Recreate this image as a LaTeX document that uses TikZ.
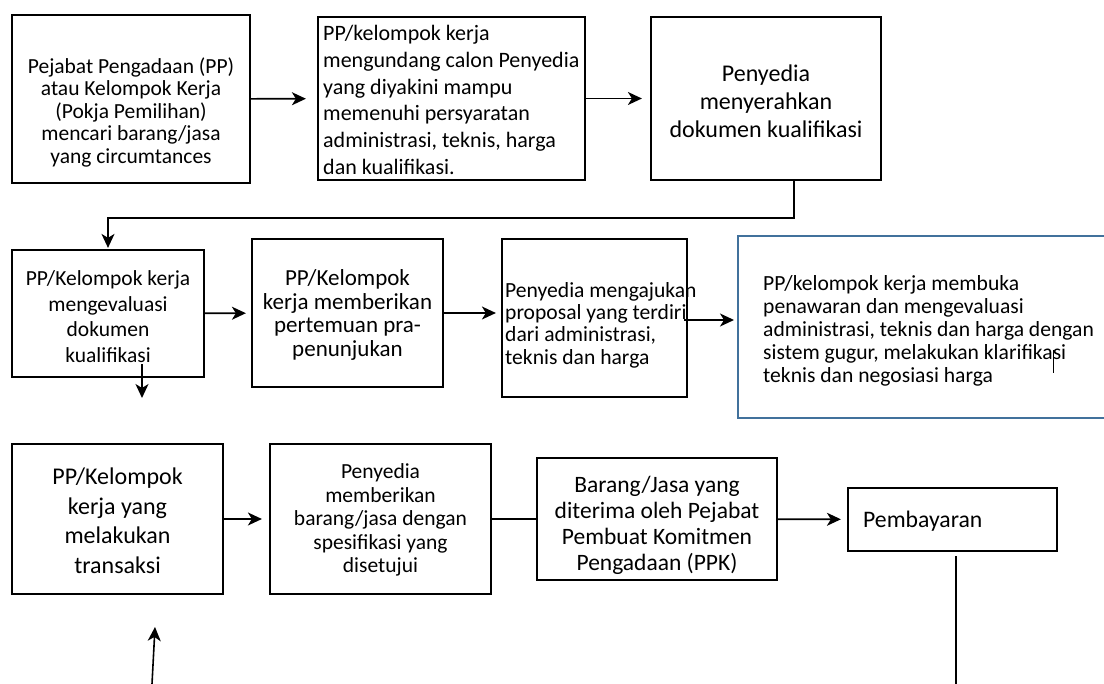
\documentclass[tikz,border=0pt]{standalone}
\usepackage{fontspec}
\setmainfont{Carlito}
\usetikzlibrary{arrows.meta}
\definecolor{outlineblue}{RGB}{65,113,156}
\newcommand\setfs[2]{\fontsize{#1}{#2}\selectfont}

\begin{document}
\begin{tikzpicture}[x=1pt,y=-1pt,
  every node/.style={inner sep=0pt},
  box/.style={draw,line width=2.2pt},
  txt/.style={align=center},
  ltxt/.style={align=flush left,anchor=west},
  arr/.style={line width=1.6pt,-{Stealth[length=14pt,width=13pt,inset=4pt]}},
  link/.style={line width=1.6pt}]
  \useasboundingbox (0,0) rectangle (1104,684);

  % row 1
  \node [box,minimum width=238,minimum height=168] (cari) at (131,99) {};
  \node [txt,font=\setfs{21.5}{22.5}] (caritxt) at (131,112)
    {Pejabat Pengadaan (PP)\\atau Kelompok Kerja\\(Pokja Pemilihan)\\mencari barang/jasa\\yang circumtances};
  \node [box,minimum width=267,minimum height=163] (undang) at (451.5,98.5) {};
  \node [ltxt,font=\setfs{22}{26.8}] (undangtxt) at (323,100)
    {PP/kelompok kerja\\mengundang calon Penyedia\\yang diyakini mampu\\memenuhi persyaratan\\administrasi, teknis, harga\\dan kualifikasi.};
  \node [box,minimum width=230,minimum height=163] (serah) at (766,98.5) {};
  \node [txt,font=\setfs{24}{28}] (serahtxt) at (766,101)
    {Penyedia\\menyerahkan\\dokumen kualifikasi};

  % row 2
  \node [box,minimum width=192,minimum height=127] (evaluasi) at (108,313.5) {};
  \node [txt,font=\setfs{21.5}{25.7}] (evaluasitxt) at (108,316.5)
    {PP/Kelompok kerja\\mengevaluasi\\dokumen\\kualifikasi};
  \node [box,minimum width=191,minimum height=148] (temu) at (347.5,313) {};
  \node [txt,font=\setfs{23}{23.5}] (temutxt) at (347.5,315)
    {PP/Kelompok\\kerja memberikan\\pertemuan pra-\\penunjukan};
  \node [box,minimum width=185,minimum height=158] (ajukan) at (594.5,318) {};
  \node [ltxt,font=\setfs{21.6}{22.3}] (ajukantxt) at (505,325)
    {Penyedia mengajukan\\proposal yang terdiri\\dari administrasi,\\teknis dan harga};
  \node [box,draw=outlineblue,line width=2pt,minimum width=400,minimum height=182] (buka) at (938,327) {};
  \node [ltxt,font=\setfs{21.6}{23}] (bukatxt) at (763,331)
    {PP/kelompok kerja membuka\\penawaran dan mengevaluasi\\administrasi, teknis dan harga dengan\\sistem gugur, melakukan klarifikasi\\teknis dan negosiasi harga};
  \draw [line width=1pt] (1053,350) -- (1053,373);

  % row 3
  \node [box,minimum width=211,minimum height=150] (transaksi) at (117.5,519) {};
  \node [txt,font=\setfs{24}{29.5}] (transaksitxt) at (117.5,521)
    {PP/Kelompok\\kerja yang\\melakukan\\transaksi};
  \node [box,minimum width=221,minimum height=150] (beri) at (380.5,519) {};
  \node [txt,font=\setfs{21.5}{23.5}] (beritxt) at (380.5,520)
    {Penyedia\\memberikan\\barang/jasa dengan\\spesifikasi yang\\disetujui};
  \node [box,minimum width=240,minimum height=122] (terima) at (657,519) {};
  \node [txt,font=\setfs{23.5}{26}] (terimatxt) at (657,525)
    {Barang/Jasa yang\\diterima oleh Pejabat\\Pembuat Komitmen\\Pengadaan (PPK)};
  \node [box,minimum width=209,minimum height=63] (bayar) at (952.5,519.5) {};
  \node [anchor=base west,font=\setfs{23.7}{26}] (bayartxt) at (863,528) {Pembayaran};

  \coordinate (evalout) at (142,398);
  \coordinate (bayarout) at (956,684);
  \coordinate (naik) at (152,684);
  \coordinate (naikujung) at (155,627);

  \draw [arr,shorten >=11pt] (cari) -- (undang);
  \draw [arr,shorten >=8pt] (undang) -- (serah);
  \draw [arr,shorten >=1pt] ([xshift=28pt]serah.south) -- ++(0,37) -| (evaluasi.north);
  \draw [arr,shorten >=5pt] (evaluasi) -- (temu);
  \draw [arr,shorten >=5pt] (temu.east) -- (temu.east -| ajukan.west);
  \draw [arr,shorten <=-4pt,shorten >=3pt] ([yshift=-2pt]ajukan.east) -- ([yshift=-2pt]ajukan.east -| buka.west);
  \draw [arr] ([xshift=34pt,yshift=14pt]evaluasi.south) -- (evalout);
  \draw [arr,shorten >=7pt] (transaksi) -- (beri);
  \draw [link] (beri) -- (terima);
  \draw [arr,shorten >=6pt] (terima) -- (bayar);
  \draw [link] ([xshift=3.5pt,yshift=-4pt]bayar.south) -- (bayarout);
  \draw [arr] (naik) -- (naikujung);
\end{tikzpicture}
\end{document}
